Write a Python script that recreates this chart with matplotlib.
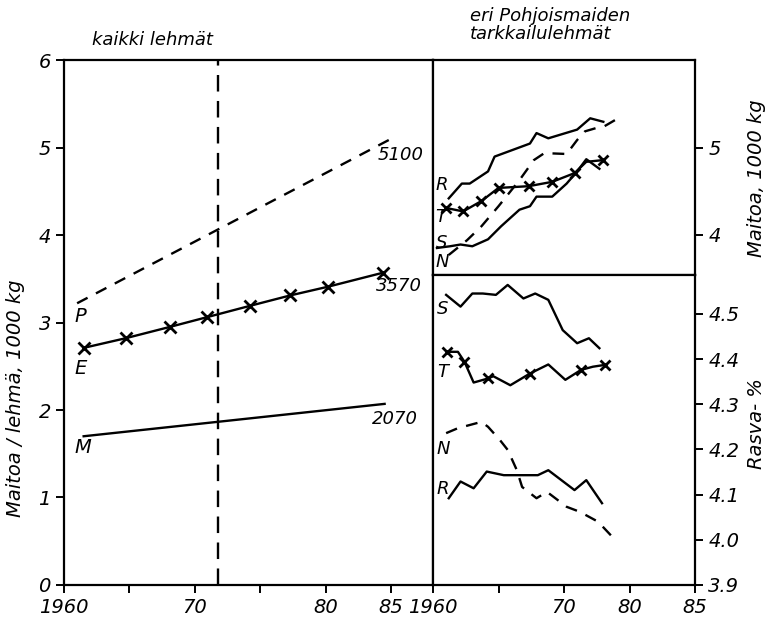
import matplotlib.pyplot as plt

# kaikki lehmät (1000 kg / lehmä)
p_vuosi = [1961.0, 1985.0]
p_maito = [3.22, 5.10]
e_vuosi = [1961.5, 1964.7, 1968.1, 1970.9, 1974.2, 1977.3, 1980.2, 1984.4]
e_maito = [2.71, 2.82, 2.95, 3.06, 3.19, 3.31, 3.41, 3.57]
m_vuosi = [1961.5, 1984.5]
m_maito = [1.70, 2.07]
raja_vuosi = 1971.8

# tarkkailulehmät, maitoa 1000 kg
r_v = [1961.2, 1962.2, 1962.8, 1964.2, 1964.7, 1967.4, 1967.9, 1968.8, 1971.0, 1972.0, 1973.0]
r_m = [4.42, 4.59, 4.59, 4.73, 4.90, 5.05, 5.17, 5.11, 5.21, 5.34, 5.30]
t_v = [1961.0, 1962.3, 1963.7, 1965.0, 1967.3, 1969.1, 1970.8, 1971.7, 1973.0]
t_m = [4.31, 4.27, 4.39, 4.54, 4.56, 4.61, 4.71, 4.84, 4.86]
s_v = [1960.3, 1961.3, 1962.1, 1963.0, 1964.2, 1965.2, 1966.6, 1967.4, 1967.9, 1969.1, 1970.2, 1971.0, 1971.7, 1972.7]
s_m = [3.85, 3.87, 3.89, 3.87, 3.95, 4.10, 4.29, 4.33, 4.44, 4.44, 4.59, 4.73, 4.87, 4.76]
n_v = [1961.2, 1962.6, 1963.7, 1965.0, 1966.6, 1967.7, 1968.5, 1970.2, 1971.0, 1971.6, 1972.5, 1973.1, 1973.9]
n_m = [3.77, 3.94, 4.10, 4.33, 4.63, 4.86, 4.94, 4.93, 5.09, 5.19, 5.23, 5.25, 5.32]

# tarkkailulehmät, rasva-%
sr_v = [1961.0, 1962.1, 1963.0, 1963.8, 1964.8, 1965.7, 1966.9, 1967.8, 1968.8, 1969.9, 1971.0, 1971.9, 1972.7]
sr_r = [4.542, 4.516, 4.545, 4.545, 4.542, 4.564, 4.534, 4.545, 4.531, 4.464, 4.435, 4.446, 4.424]
tr_v = [1961.1, 1961.9, 1962.4, 1963.1, 1964.2, 1964.6, 1965.9, 1967.4, 1968.8, 1970.1, 1971.3, 1972.2, 1973.1]
tr_r = [4.416, 4.416, 4.394, 4.348, 4.357, 4.362, 4.342, 4.368, 4.388, 4.354, 4.376, 4.383, 4.387]
tr_merkit = [0, 2, 4, 7, 10, 12]
nr_v = [1961.0, 1961.9, 1963.7, 1964.2, 1965.1, 1965.7, 1966.4, 1966.8, 1967.9, 1968.7, 1970.2, 1971.2, 1972.6, 1973.8]
nr_r = [4.236, 4.247, 4.261, 4.250, 4.221, 4.199, 4.154, 4.117, 4.092, 4.106, 4.073, 4.062, 4.040, 4.003]
rr_v = [1961.2, 1962.1, 1963.1, 1964.1, 1965.4, 1966.6, 1968.0, 1968.8, 1969.8, 1970.8, 1971.7, 1972.9]
rr_r = [4.092, 4.129, 4.114, 4.151, 4.143, 4.143, 4.143, 4.154, 4.132, 4.110, 4.132, 4.081]

plt.rcParams['font.family'] = 'DejaVu Sans'
plt.rcParams['font.style'] = 'italic'
fs = 14
lw = 1.7

fig = plt.figure(figsize=(7.77, 6.22), dpi=100)
ax = fig.add_axes([0.0824, 0.0595, 0.4749, 0.844])
ax_m = fig.add_axes([0.5573, 0.5579, 0.3372, 0.3457])
ax_r = fig.add_axes([0.5573, 0.0595, 0.3372, 0.4984])

for a in (ax, ax_m, ax_r):
    for s in a.spines.values():
        s.set_linewidth(1.6)
    a.tick_params(direction='out', length=6, width=1.4, labelsize=fs)

# vasen kuva
ax.plot(p_vuosi, p_maito, 'k', lw=lw, dashes=(5, 4))
ax.plot(e_vuosi, e_maito, 'k-', lw=lw, marker='x', ms=8, mew=2)
ax.plot(m_vuosi, m_maito, 'k-', lw=lw)
ax.axvline(raja_vuosi, color='k', lw=lw, dashes=(7, 4))
ax.set_xlim(1960, 1988.2)
ax.set_ylim(0, 6)
ax.set_yticks(range(7))
ax.set_xticks([1960, 1965, 1970, 1975, 1980, 1985])
ax.set_xticklabels(['1960', '', '70', '', '80', '85'])
ax.set_ylabel('Maitoa / lehmä, 1000 kg', fontsize=fs)
ax.yaxis.set_label_coords(-0.105, 0.356)
ax.text(1960.8, 3.07, 'P', fontsize=fs, va='center')
ax.text(1960.8, 2.48, 'E', fontsize=fs, va='center')
ax.text(1960.8, 1.57, 'M', fontsize=fs, va='center')
ax.text(1985.7, 4.92, '5100', fontsize=13, ha='center', va='center')
ax.text(1985.6, 3.42, '3570', fontsize=13, ha='center', va='center')
ax.text(1985.3, 1.90, '2070', fontsize=13, ha='center', va='center')
ax.set_title('kaikki lehmät', fontsize=13, x=0.24, y=1.012, loc='center')

# oikea yläkuva: maitoa
ax_m.plot(r_v, r_m, 'k-', lw=lw)
ax_m.plot(t_v, t_m, 'k-', lw=lw, marker='x', ms=7, mew=2, markevery=[0, 1, 2, 3, 4, 5, 6, 8])
ax_m.plot(s_v, s_m, 'k-', lw=lw)
ax_m.plot(n_v, n_m, 'k', lw=lw, dashes=(5, 4))
ax_m.set_xlim(1960, 1980)
ax_m.set_ylim(3.54, 6.01)
ax_m.set_xticks([])
ax_m.set_yticks([4, 5])
ax_m.yaxis.tick_right()
ax_m.yaxis.set_label_position('right')
ax_m.set_ylabel('Maitoa, 1000 kg', fontsize=fs)
ax_m.yaxis.set_label_coords(1.20, 0.45)
for kirjain, y in [('R', 4.57), ('T', 4.21), ('S', 3.91), ('N', 3.69)]:
    ax_m.text(1960.2, y, kirjain, fontsize=13, va='center')
fig.text(0.605, 0.988, 'eri Pohjoismaiden\ntarkkailulehmät', fontsize=13,
         va='top', linespacing=0.95)

# oikea alakuva: rasva-%
ax_r.plot(sr_v, sr_r, 'k-', lw=lw)
ax_r.plot(tr_v, tr_r, 'k-', lw=lw, marker='x', ms=7, mew=2, markevery=tr_merkit)
ax_r.plot(nr_v, nr_r, 'k', lw=lw, dashes=(5, 4))
ax_r.plot(rr_v, rr_r, 'k-', lw=lw)
ax_r.set_xlim(1960, 1980)
ax_r.set_ylim(3.9, 4.586)
ax_r.set_xticks([1960, 1965, 1970, 1975, 1980])
ax_r.set_xticklabels(['1960', '', '70', '80', '85'])
ax_r.set_yticks([3.9, 4.0, 4.1, 4.2, 4.3, 4.4, 4.5])
ax_r.yaxis.tick_right()
ax_r.yaxis.set_label_position('right')
ax_r.set_ylabel('Rasva- %', fontsize=fs)
ax_r.yaxis.set_label_coords(1.20, 0.52)
for kirjain, y in [('S', 4.511), ('T', 4.371), ('N', 4.201), ('R', 4.112)]:
    ax_r.text(1960.3, y, kirjain, fontsize=13, va='center')

fig.savefig('out.png', dpi=100)
